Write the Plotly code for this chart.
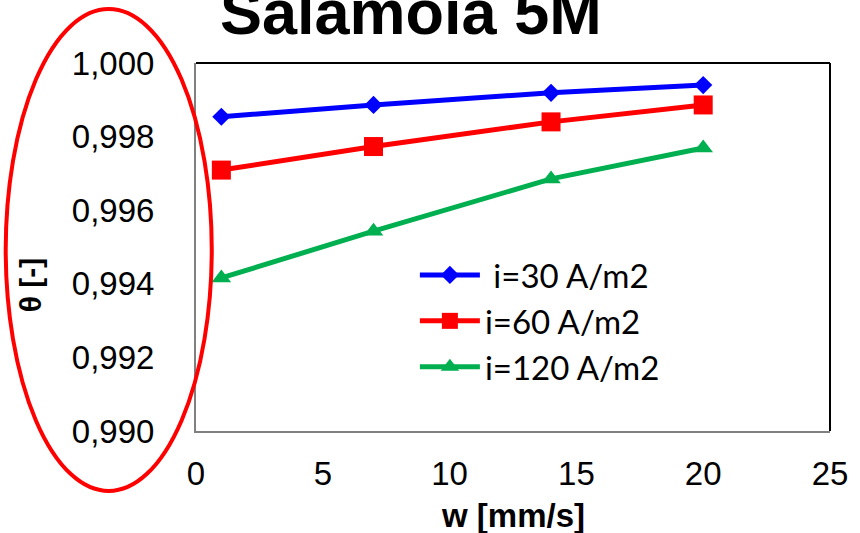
import plotly.graph_objects as go

w = [1, 7, 14, 20]
theta_30 = [0.99854, 0.99886, 0.99919, 0.99940]
theta_60 = [0.99709, 0.99773, 0.99840, 0.99886]
theta_120 = [0.99416, 0.99543, 0.99685, 0.99769]
names = ["i=30 A/m2", "i=60 A/m2", "i=120 A/m2"]
y_ticks = [0.990, 0.992, 0.994, 0.996, 0.998, 1.000]
y_ticktext = ["0,990", "0,992", "0,994", "0,996", "0,998", "1,000"]
x_ticks = [0, 5, 10, 15, 20, 25]

W, H = 860, 533
L, R, T, B = 196, 21, 63, 102
pw, ph = W - L - R, H - T - B

def px(x):
    return (x - L) / pw

def py(y):
    return (H - B - y) / ph

narrow = "Liberation Sans Narrow, Arial Narrow, Liberation Sans, Arial"

fig = go.Figure()
fig.add_trace(go.Scatter(x=w, y=theta_30, name=" " + names[0], mode="lines+markers",
                         line=dict(color="#0000FF", width=5),
                         marker=dict(symbol="diamond", size=14, color="#0000FF")))
fig.add_trace(go.Scatter(x=w, y=theta_60, name=names[1], mode="lines+markers",
                         line=dict(color="#FF0000", width=5),
                         marker=dict(symbol="square", size=19, color="#FF0000")))
fig.add_trace(go.Scatter(x=w, y=theta_120, name=names[2], mode="lines+markers",
                         line=dict(color="#00B050", width=5),
                         marker=dict(symbol="triangle-up", size=17, color="#00B050")))

fig.update_layout(
    width=W, height=H,
    margin=dict(l=L, r=R, t=T, b=B),
    paper_bgcolor="white", plot_bgcolor="white",
    showlegend=True,
    legend=dict(x=px(418), y=py(247), xanchor="left", yanchor="top",
                bgcolor="rgba(0,0,0,0)", font=dict(family="Lato, Carlito, Calibri, sans-serif", size=33, color="black"),
                itemwidth=60, tracegroupgap=0),
    xaxis=dict(range=[0, 25], tickvals=x_ticks, showgrid=False, zeroline=False,
               showline=True, linecolor="#808080", linewidth=2, mirror=False,
               ticks="", tickfont=dict(family=narrow, size=33, color="black"),
               ticklabelstandoff=12),
    yaxis=dict(range=[0.990, 1.000], tickvals=y_ticks, ticktext=y_ticktext, showgrid=False, zeroline=False,
               showline=True, linecolor="#808080", linewidth=2, mirror=False,
               ticks="", tickfont=dict(family=narrow, size=33, color="black"),
               ticklabelstandoff=33),
    annotations=[
        dict(text="<b>Salamoia 5M</b>", xref="paper", yref="paper", x=px(414), y=py(12),
             xanchor="center", yanchor="middle", showarrow=False,
             font=dict(family="Liberation Sans, Arial", size=63, color="black")),
        dict(text="<b>w [mm/s]</b>", xref="paper", yref="paper", x=px(518), y=py(515),
             xanchor="center", yanchor="middle", showarrow=False,
             font=dict(family=narrow, size=33, color="black")),
        dict(text="<b>θ [-]</b>", xref="paper", yref="paper", x=px(28), y=py(285),
             xanchor="center", yanchor="middle", showarrow=False, textangle=-90,
             font=dict(family=narrow, size=30, color="black")),
    ],
    shapes=[
        dict(type="line", xref="paper", yref="paper", x0=0, x1=1, y0=1, y1=1,
             line=dict(color="black", width=2), layer="above"),
        dict(type="line", xref="paper", yref="paper", x0=1, x1=1, y0=0, y1=1,
             line=dict(color="black", width=2), layer="above"),
        dict(type="circle", xref="paper", yref="paper",
             x0=px(3), x1=px(212), y0=py(491), y1=py(9),
             line=dict(color="#FF0000", width=4), layer="above"),
    ],
)

fig.write_html("out.html")
